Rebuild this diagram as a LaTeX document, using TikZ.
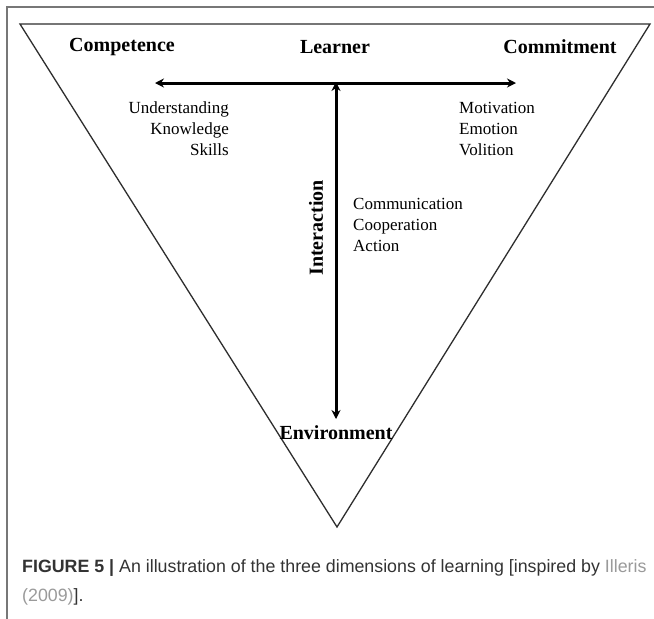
\documentclass[tikz,border=0pt]{standalone}
\usepackage{fontspec}
\setmainfont{Liberation Serif}
\newfontfamily\capfont{Liberation Sans}
\usetikzlibrary{arrows.meta}
\definecolor{framegray}{HTML}{777777}
\definecolor{capgray}{HTML}{333333}
\definecolor{linkgray}{HTML}{9A9A9A}
\definecolor{trigray}{HTML}{2E2E2E}
\tikzset{
  title/.style={font=\fontsize{20}{24}\selectfont\bfseries, inner sep=0pt},
  item/.style={font=\fontsize{17}{20}\selectfont, inner sep=0pt},
  dimarrow/.style={line width=3pt, {Stealth[length=9pt,width=9pt]}-{Stealth[length=9pt,width=9pt]}},
  tri/.style={draw=trigray, line width=1.3pt, line join=miter},
  framel/.style={draw=framegray, line width=1.4pt},
  caption/.style={font=\capfont\fontsize{17.8}{21}\selectfont, text=capgray, inner sep=0pt, anchor=west}
}
\begin{document}
\begin{tikzpicture}[x=1pt,y=-1pt]
\useasboundingbox[fill=white] (0,0) rectangle (654,619);
% frame
\coordinate (fb) at (7,619);
\coordinate (fc) at (7,7);
\coordinate (fr) at (654,7);
\draw[framel] (fb) -- (fc) -- (fr);
% triangle
\coordinate (tl) at (20,24);
\coordinate (tr) at (650,24);
\coordinate (tb) at (337,527);
\draw[tri] (tl) -- (tr) -- (tb) -- cycle;
% titles
\node[title] (comp) at (122,47) {Competence};
\node[title] (learn) at (335,47) {Learner};
\node[title] (comm) at (560,47) {Commitment};
\node[title] (env) at (336,433) {Environment};
\node[title, rotate=90] (inter) at (316,228) {Interaction};
% arrows
\coordinate (hl) at (155,83);
\coordinate (hr) at (516,83);
\coordinate (vt) at (336,82);
\coordinate (vb) at (336,419);
\draw[dimarrow] (hl) -- (hr);
\draw[dimarrow] (vb) -- (vt);
% items
\node[item, align=right, anchor=north east] (cu) at (229,102) {Understanding\\[0.9pt]Knowledge\\[0.9pt]Skills};
\node[item, align=left, anchor=north west] (mu) at (459,102) {Motivation\\[0.9pt]Emotion\\[0.9pt]Volition};
\node[item, align=left, anchor=north west] (iu) at (353,198) {Communication\\[0.9pt]Cooperation\\[0.9pt]Action};
% caption
\node[caption] (cap1) at (22,568) {\textbf{FIGURE 5 |} An illustration of the three dimensions of learning [inspired by \textcolor{linkgray}{Illeris}};
\node[caption] (cap2) at (22,597) {\textcolor{linkgray}{(2009)}].};
\end{tikzpicture}
\end{document}
